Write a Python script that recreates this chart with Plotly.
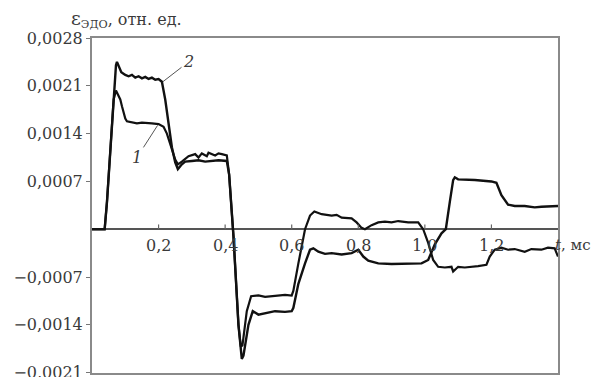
import plotly.graph_objects as go

# ---- data (t in ms, strain in relative units) ----
t1 = [0.0, 0.02, 0.038, 0.045, 0.055, 0.065, 0.072, 0.078, 0.085, 0.09, 0.1, 0.105, 0.12, 0.135,
      0.15, 0.165, 0.18, 0.2, 0.215, 0.225, 0.24, 0.25, 0.258, 0.27, 0.29, 0.31, 0.32, 0.33, 0.345,
      0.35, 0.37, 0.38, 0.39, 0.405, 0.412, 0.425, 0.44, 0.447, 0.452, 0.465, 0.478, 0.5, 0.52,
      0.55, 0.58, 0.6, 0.605, 0.62, 0.64, 0.655, 0.668, 0.69, 0.72, 0.735, 0.75, 0.78, 0.795, 0.81,
      0.82, 0.84, 0.86, 0.88, 0.9, 0.92, 0.95, 0.98, 0.995, 1.01, 1.025, 1.04, 1.06, 1.08, 1.085,
      1.1, 1.12, 1.16, 1.185, 1.195, 1.21, 1.23, 1.25, 1.27, 1.3, 1.32, 1.35, 1.37, 1.39, 1.4]
v1 = [0.0, 0.0, 0.0, 0.0004, 0.0012, 0.0019, 0.00203, 0.00198, 0.0019, 0.0018, 0.00162, 0.00158,
      0.00157, 0.00155, 0.00156, 0.00155, 0.00155, 0.00154, 0.0015, 0.0014, 0.00118, 0.00102,
      0.00095, 0.00099, 0.00107, 0.0011, 0.00105, 0.00111, 0.00107, 0.00112, 0.00108, 0.00111,
      0.0011, 0.00108, 0.0008, -0.0001, -0.0014, -0.00172, -0.0017, -0.0012, -0.00098, -0.00097,
      -0.00099, -0.00098, -0.00096, -0.00097, -0.0009, -0.0005, 0.0, 0.0002, 0.00026, 0.00022,
      0.0002, 0.00021, 0.00017, 0.00016, 0.0001, 0.00002, 0.0, 0.00006, 0.0001, 0.00011, 0.0001,
      0.00012, 0.0001, 0.0001, 0.0, -0.0002, -0.00045, -0.00055, -0.00056, -0.00055, -0.00062,
      -0.00055, -0.00056, -0.00054, -0.00052, -0.0004, -0.0003, -0.00027, -0.0003, -0.00029,
      -0.00033, -0.00029, -0.0003, -0.00027, -0.00028, -0.0004]

t2 = [0.0, 0.02, 0.038, 0.045, 0.055, 0.065, 0.072, 0.075, 0.08, 0.088, 0.1, 0.11, 0.12, 0.13,
      0.14, 0.15, 0.16, 0.17, 0.18, 0.19, 0.2, 0.21, 0.22, 0.228, 0.24, 0.25, 0.258, 0.27, 0.28,
      0.3, 0.32, 0.34, 0.36, 0.38, 0.405, 0.412, 0.425, 0.44, 0.45, 0.455, 0.47, 0.483, 0.5, 0.52,
      0.55, 0.58, 0.6, 0.605, 0.62, 0.64, 0.655, 0.665, 0.68, 0.7, 0.72, 0.75, 0.78, 0.8, 0.815,
      0.83, 0.86, 0.9, 0.95, 0.99, 1.01, 1.03, 1.05, 1.063, 1.075, 1.085, 1.09, 1.1, 1.15, 1.2,
      1.215, 1.23, 1.25, 1.27, 1.3, 1.33, 1.35, 1.38, 1.4]
v2 = [0.0, 0.0, 0.0, 0.0004, 0.0012, 0.002, 0.0024, 0.00245, 0.0024, 0.0023, 0.00226, 0.00224,
      0.00226, 0.00222, 0.00224, 0.00221, 0.00223, 0.0022, 0.00222, 0.00219, 0.0022, 0.00216,
      0.0019, 0.0016, 0.0012, 0.00098, 0.00088, 0.00095, 0.00099, 0.001, 0.00101, 0.00099, 0.001,
      0.00101, 0.001, 0.0008, -0.0001, -0.0014, -0.0019, -0.00185, -0.0014, -0.0012, -0.00125,
      -0.00123, -0.0012, -0.00121, -0.0012, -0.00115, -0.0008, -0.0005, -0.0003, -0.00028,
      -0.00033, -0.00036, -0.00035, -0.00037, -0.00035, -0.0003, -0.0004, -0.00046, -0.0005,
      -0.00051, -0.0005, -0.0005, -0.00045, -0.00022, -0.00006, 0.0, 0.0004, 0.00072, 0.00076,
      0.00073, 0.00072, 0.0007, 0.00068, 0.0005, 0.00036, 0.00034, 0.00034, 0.00032, 0.00033,
      0.00034, 0.00034]

y_ticks = [0.0028, 0.0021, 0.0014, 0.0007, -0.0007, -0.0014, -0.0021]
y_labels = ["0,0028", "0,0021", "0,0014", "0,0007", "\u22120,0007", "\u22120,0014", "\u22120,0021"]
x_ticks = [0.2, 0.4, 0.6, 0.8, 1.0, 1.2]
x_labels = ["0,2", "0,4", "0,6", "0,8", "1,0", "1,2"]

FONT = "DejaVu Serif"
TXT = "#3a3a3a"

fig = go.Figure()
fig.add_trace(go.Scatter(x=t1, y=v1, mode="lines", line=dict(color="#111", width=2.2),
                         showlegend=False, name="1"))
fig.add_trace(go.Scatter(x=t2, y=v2, mode="lines", line=dict(color="#111", width=2.4),
                         showlegend=False, name="2"))

annotations = []
for xv, lab in zip(x_ticks, x_labels):
    annotations.append(dict(x=xv, y=0, xref="x", yref="y", text=lab, showarrow=False,
                            yanchor="top", yshift=-5, font=dict(family=FONT, size=16, color=TXT)))
annotations.append(dict(x=1.4, y=0, xref="x", yref="y", text="<i>t</i>, мс", showarrow=False,
                        xanchor="left", xshift=-5, yanchor="top", yshift=-5,
                        font=dict(family=FONT, size=15, color=TXT)))
annotations.append(dict(x=-0.05, y=1.057, xref="paper", yref="paper",
                        text="<span style='font-size:19px'>ε</span><sub>ЭДО</sub>, отн. ед.",
                        showarrow=False, xanchor="left", yanchor="middle",
                        font=dict(family=FONT, size=16, color=TXT)))
# curve labels with leader lines
annotations.append(dict(x=0.213, y=0.00216, xref="x", yref="y", ax=0.29, ay=0.00245,
                        axref="x", ayref="y", text="<i>2</i>", showarrow=True, arrowhead=0,
                        arrowwidth=1, arrowcolor="#555", font=dict(family=FONT, size=16, color=TXT)))
annotations.append(dict(x=0.197, y=0.00152, xref="x", yref="y", ax=0.135, ay=0.00105,
                        axref="x", ayref="y", text="<i>1</i>", showarrow=True, arrowhead=0,
                        arrowwidth=1, arrowcolor="#555", font=dict(family=FONT, size=16, color=TXT)))

shapes = [dict(type="line", xref="x", yref="y", x0=xv, x1=xv, y0=0, y1=0.00007,
               line=dict(color="#666", width=1.2)) for xv in x_ticks]

# the page body adds an 8px offset, so the figure is sized to fit the window
fig.update_layout(
    width=591, height=369,
    margin=dict(l=84, r=41, t=30, b=4),
    paper_bgcolor="white", plot_bgcolor="white",
    annotations=annotations, shapes=shapes,
    xaxis=dict(range=[0, 1.4], showgrid=False, zeroline=False, showticklabels=False, ticks="",
               showline=True, mirror=True, linecolor="#8a8a8a", linewidth=2),
    yaxis=dict(range=[-0.002105, 0.0028], showgrid=False, zeroline=True, zerolinecolor="#555",
               zerolinewidth=2, tickvals=y_ticks, ticktext=y_labels, ticks="outside", ticklen=4,
               tickcolor="#777", tickwidth=1.2, showline=True, mirror=True, linecolor="#8a8a8a",
               linewidth=2, automargin=False, ticklabeloverflow="allow",
               tickfont=dict(family=FONT, size=16, color=TXT)),
)

fig.write_html("out.html")
